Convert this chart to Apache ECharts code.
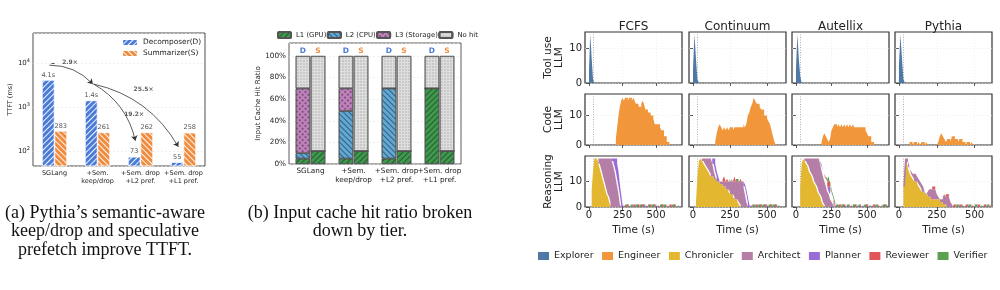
<!DOCTYPE html>
<html>
<head>
<meta charset="utf-8">
<title>Pythia evaluation figure</title>
<script src="https://cdn.jsdelivr.net/npm/echarts@6.0.0/dist/echarts.min.js"></script>
<style>
  html, body { margin: 0; padding: 0; background: #fff; }
  #chart { width: 1000px; height: 290px; }
</style>
</head>
<body>
<div id="chart"></div>
<script>
// ---------- (a) TTFT per stage ----------
const stageLabels = ['SGLang', '+Sem.\nkeep/drop', '+Sem. drop\n+L2 pref.', '+Sem. drop\n+L1 pref.']
const ttftDecomposer = [4100, 1400, 73, 55]
const ttftSummarizer = [283, 261, 262, 258]
const ttftTextD = ['4.1s', '1.4s', '73', '55']
const ttftTextS = ['283', '261', '262', '258']
// speedup arrows: [stage0, ttft0, stage1, ttft1]
const speedupArrows = [[-0.12, 8900, 0.89, 3300], [0.91, 3300, 1.88, 170], [0.91, 3300, 2.88, 123]]
const speedupText = ['2.9×', '19.2×', '25.5×']
const speedupTextAt = [[0.36, 10000], [1.85, 660], [2.07, 2500]]

// ---------- (b) input cache hit ratio (%) ----------
const tierNames = ['L1 (GPU)', 'L2 (CPU)', 'L3 (Storage)', 'No hit']
const decL1 = [5, 5, 5, 70]
const decL2 = [5, 44, 65, 0]
const decL3 = [60, 21, 0, 0]
const decMiss = [30, 30, 30, 30]
const sumL1 = [12, 12, 12, 12]
const sumL2 = [0, 0, 0, 0]
const sumL3 = [0, 0, 0, 0]
const sumMiss = [88, 88, 88, 88]

// ---------- (c) running requests over time ----------
const schedulers = ['FCFS', 'Continuum', 'Autellix', 'Pythia']
const rowNames = ['Tool use\nLLM', 'Code\nLLM', 'Reasoning\nLLM']
const agents = ['Explorer', 'Engineer', 'Chronicler', 'Architect', 'Planner', 'Reviewer', 'Verifier']
const timeTicks = [0, 250, 500]
const countTicks = [0, 10]
const timeRanges = [[-30, 694], [-27, 628], [-28, 655], [-26, 615]]
const rowMax = [14.7, 17.3, 20]
const launchTime = 30
const BIN = 10 // seconds per histogram bin

// Tool use LLM (Explorer), bins from t = 0
const toolFcfs = [4, 14, 7, 1]
const toolCont = [4, 14, 7, 1]
const toolAut = [4, 14, 7, 2]
const toolPythia = [5, 14, 7, 1]

// Code LLM (Engineer), first bin start and bins
const codeStart = [200, 150, 180, 70]
const codeFcfs = [2, 6, 10, 13, 15, 16, 15, 16, 16, 15, 16, 16, 15, 16, 15, 14, 14, 13, 13, 14, 15, 14, 12, 12, 11, 11, 10, 10, 9, 7, 7, 7, 7, 6, 5, 5, 3, 3, 1, 1]
const codeCont = [1, 4, 6, 7, 6, 5, 6, 5, 6, 5, 6, 6, 5, 6, 6, 6, 6, 6, 6, 7, 6, 7, 10, 11, 13, 14, 16, 15, 14, 14, 13, 12, 12, 10, 10, 9, 8, 7, 5, 3, 1]
const codeAut = [1, 3, 4, 3, 2, 1, 2, 5, 6, 7, 7, 6, 7, 6, 7, 6, 7, 6, 7, 6, 7, 6, 7, 6, 6, 6, 6, 6, 6, 6, 6, 5, 4, 3, 3, 1, 1]
const codePythia = [1, 1, 0, 1, 1, 0, 1, 0, 1, 1, 0, 1, 0, 0, 0, 0, 0, 0, 0, 1, 3, 4, 3, 2, 1, 2, 2, 1, 3, 3, 2, 2, 1, 2, 2, 1, 1, 0, 1, 1, 0, 1]

// Reasoning LLM, bins from t = 0 for the main agents
const fcfsChronicler = [0, 0, 7, 14, 19, 19, 19, 17, 15, 13, 11, 9, 7, 5, 4, 2, 0]
const fcfsArchitect = [0, 0, 0, 0, 0, 0, 0, 2, 4, 6, 8, 10, 12, 14, 15, 17, 19, 18, 16, 14, 11, 8, 5, 1]
const fcfsPlanner = [0, 0, 0, 0, 0, 0, 0, 0, 0, 0, 0, 0, 0, 0, 0, 0, 0, 1, 3, 5, 8, 9, 9, 8, 5, 1]
const contChronicler = [0, 0, 2, 12, 18, 19, 18, 17, 16, 15, 14, 13, 12, 12, 11, 11, 10, 10, 9, 9, 8, 8, 7, 7, 6, 5, 5, 4, 3, 3, 2, 1, 0]
const contArchitect = [0, 0, 0, 0, 0, 0, 1, 2, 3, 4, 5, 6, 7, 5, 3, 1, 0, 0, 1, 1, 2, 2, 3, 3, 4, 5, 5, 6, 7, 7, 8, 9, 10, 10, 8, 5, 2]
const contPlanner = [0, 0, 0, 0, 0, 0, 0, 0, 0, 0, 0, 0, 0, 2, 5, 5, 4, 2, 0, 0, 0, 0, 0, 0, 0, 0, 0, 0, 0, 0, 0, 0, 0, 0, 2, 4, 5, 4, 1]
const autChronicler = [0, 0, 0, 8, 17, 19, 18, 17, 16, 14, 13, 12, 10, 9, 8, 6, 5, 4, 2, 1, 0]
const autArchitect = [0, 0, 0, 0, 0, 0, 1, 2, 3, 5, 6, 7, 9, 10, 11, 13, 14, 13, 12, 11, 10, 8, 6, 5, 3, 2, 1]
const autPlanner = [0, 0, 0, 0, 0, 0, 0, 0, 0, 0, 0, 0, 0, 0, 0, 0, 0, 1, 2, 2, 2, 2, 2, 3, 2, 1, 1]
const pythiaChronicler = [0, 0, 0, 8, 17, 18, 15, 13, 12, 11, 10, 10, 9, 8, 7, 6, 6, 5, 5, 4, 4, 3, 3, 3, 3, 3, 3, 2, 2, 1, 1, 0]
const pythiaArchitect = [0, 0, 0, 1, 2, 1, 1, 2, 2, 2, 3, 3, 3, 3, 3, 3, 2, 1, 0, 2, 3, 4, 4, 4, 4, 2, 1, 1, 1, 3, 4, 4, 4, 4, 2, 1]

// Reasoning LLM, single requests: start time (s) of each bin that holds one more
const fcfsExplorerAt = [320, 370, 410, 490, 550, 610]
const fcfsPlannerAt = [290, 340, 400, 460, 500, 590, 640]
const fcfsReviewerAt = [260, 280, 300, 330, 360, 390, 420, 450, 480, 510, 540, 570, 600, 630, 650]
const fcfsVerifierAt = [270, 310, 350, 380, 440, 470, 530, 560, 620, 660]
const contExplorerAt = [430, 490, 530]
const contPlannerAt = [410, 460, 500, 560]
const contReviewerAt = [200, 210, 210, 230, 260, 280, 280, 300, 320, 390, 420, 450, 480, 520, 550]
const contVerifierAt = [240, 290, 400, 440, 470, 510, 540, 570]
const autExplorerAt = [340, 420, 500, 570, 630]
const autPlannerAt = [310, 350, 390, 430, 470, 510, 550, 600]
const autReviewerAt = [200, 210, 220, 220, 230, 230, 240, 240, 250, 250, 260, 270, 300, 330, 370, 410, 450, 490, 540, 580, 620]
const autVerifierAt = [210, 220, 230, 230, 240, 240, 250, 260, 270, 280, 290, 320, 360, 400, 440, 480, 520, 560, 610, 640]
const pythiaExplorerAt = [390, 450, 510, 570]
const pythiaPlannerAt = [60, 70, 80, 90, 370, 410, 470, 530, 590]
const pythiaReviewerAt = [220, 230, 310, 320, 360, 400, 440, 480, 520, 560, 600]
const pythiaVerifierAt = [380, 420, 460, 500, 540, 580]

const FONT = 'DejaVu Sans'
const INK = '#222'
const agentColor = {
  Explorer: '#4e79a7', Engineer: '#f2963c', Chronicler: '#e3b830', Architect: '#b47ea7',
  Planner: '#9a6cd6', Reviewer: '#e15759', Verifier: '#5aa150'
}

function hatch(color, rotation, gap) {
  return { symbol: 'rect', symbolSize: 1, color: color, dashArrayX: [1, 0], dashArrayY: [1, gap || 3], rotation: rotation }
}

// histogram bins -> step points, stored as [count, time] so that the count is the stacked dimension.
// Empty bins away from a run become gaps, so a layer leaves no sliver where it is zero.
function stepData(start, vals, gaps) {
  const pts = vals.map((v, i) => {
    const keep = !gaps || v > 0 || (i > 0 && vals[i - 1] > 0)
    return [keep ? v : null, start + i * BIN]
  })
  const last = vals[vals.length - 1]
  pts.push([!gaps || last > 0 ? 0 : null, start + vals.length * BIN])
  return pts
}

function binned(dense, at, n) {
  const out = []
  for (let i = 0; i < n; i++) out.push(dense && i < dense.length ? dense[i] : 0)
  ;(at || []).forEach(t => { out[Math.round(t / BIN)] += 1 })
  return out
}

const chart = echarts.init(document.getElementById('chart'))

const grids = [], xAxes = [], yAxes = [], series = [], titles = []
const axisTickStyle = { length: 3, lineStyle: { color: INK, width: 0.8 } }

// ----- (a) -----
grids.push({ left: 33, top: 33, width: 172, height: 133, show: true, borderColor: INK, borderWidth: 0.8, outerBoundsMode: 'none' })
xAxes.push({
  type: 'category', gridIndex: 0, data: stageLabels,
  axisLine: { show: false }, axisTick: Object.assign({ alignWithLabel: true }, axisTickStyle),
  axisLabel: { interval: 0, fontSize: 6.5, lineHeight: 8, color: INK, margin: 3 }
})
xAxes.push({ type: 'value', gridIndex: 0, min: -0.5, max: 3.5, show: false })
yAxes.push({
  type: 'log', gridIndex: 0, logBase: 10, min: 45, max: 48000,
  name: 'TTFT (ms)', nameLocation: 'middle', nameGap: 18, nameTextStyle: { fontSize: 6.5, color: INK },
  axisLine: { show: false }, axisTick: axisTickStyle,
  axisLabel: {
    showMinLabel: false, showMaxLabel: false, fontSize: 7, color: INK, margin: 3,
    formatter: v => '10{s|' + Math.round(Math.log10(v)) + '}',
    rich: { s: { fontSize: 5, verticalAlign: 'top', padding: [0, 0, 5, 0], color: INK } }
  },
  splitLine: { lineStyle: { color: '#e4e4e4', type: [2, 2], width: 0.6 } }
})
series.push({
  type: 'bar', name: 'Decomposer(D)', xAxisIndex: 0, yAxisIndex: 0, data: ttftDecomposer,
  barWidth: 12.5, barGap: '0%',
  itemStyle: { color: '#4a7bd6', borderColor: '#fff', borderWidth: 0.5, decal: hatch('rgba(255,255,255,0.9)', -Math.PI / 4) },
  label: { show: true, position: 'top', distance: 1.5, fontSize: 6.5, color: '#555', formatter: p => ttftTextD[p.dataIndex] }
})
series.push({
  type: 'bar', name: 'Summarizer(S)', xAxisIndex: 0, yAxisIndex: 0, data: ttftSummarizer,
  barWidth: 12.5, barGap: '0%',
  itemStyle: { color: '#ef8c3f', borderColor: '#fff', borderWidth: 0.5, decal: hatch('rgba(255,255,255,0.9)', Math.PI / 4) },
  label: { show: true, position: 'top', distance: 1.5, fontSize: 6.5, color: '#555', formatter: p => ttftTextS[p.dataIndex] }
})
series.push({
  type: 'lines', coordinateSystem: 'cartesian2d', xAxisIndex: 1, yAxisIndex: 0, silent: true, z: 5,
  symbol: ['none', 'arrow'], symbolSize: 5,
  lineStyle: { color: '#333', width: 0.8, curveness: 0.22, opacity: 1 },
  data: speedupArrows.map(a => ({ coords: [[a[0], a[1]], [a[2], a[3]]] }))
})
series.push({
  type: 'scatter', xAxisIndex: 1, yAxisIndex: 0, symbolSize: 0, silent: true, z: 6,
  data: speedupText.map((t, i) => ({ name: t, value: speedupTextAt[i] })),
  label: { show: true, position: 'inside', formatter: '{b}', fontSize: 6, fontWeight: 'bold', color: '#333' }
})

// ----- (b) -----
grids.push({ left: 289, top: 43, width: 172, height: 121, show: true, borderColor: '#333', borderWidth: 0.8, outerBoundsMode: 'none' })
xAxes.push({
  type: 'category', gridIndex: 1, data: stageLabels,
  axisLine: { show: false }, axisTick: Object.assign({ alignWithLabel: true }, axisTickStyle),
  axisLabel: { interval: 0, fontSize: 7.3, lineHeight: 8.5, color: INK, margin: 3 }
})
yAxes.push({
  type: 'value', gridIndex: 1, min: 0, max: 112, interval: 20,
  name: 'Input Cache Hit Ratio', nameLocation: 'middle', nameGap: 27, nameTextStyle: { fontSize: 7, color: INK },
  axisLine: { show: false }, axisTick: axisTickStyle,
  axisLabel: { showMaxLabel: false, formatter: '{value}%', fontSize: 7.3, color: INK, margin: 3 },
  splitLine: { lineStyle: { color: '#e4e4e4', type: [2, 2], width: 0.6 } }
})
const tierStyle = [
  { color: '#3b9a4b', decal: hatch('rgba(40,40,40,0.6)', -Math.PI / 4) },
  { color: '#5ea9d8', decal: hatch('rgba(40,40,40,0.6)', Math.PI / 4) },
  { color: '#c27fbf', decal: { symbol: 'rect', symbolSize: 1, color: 'rgba(60,60,60,0.55)', dashArrayX: [1.5, 1.5], dashArrayY: [1.5, 1.5], rotation: Math.PI / 4 } },
  { color: '#dedede', decal: { symbol: 'rect', symbolSize: 0.5, color: '#8a8a8a', dashArrayX: [2, 1], dashArrayY: [2, 1], rotation: 0 } }
]
const decTiers = [decL1, decL2, decL3, decMiss]
const sumTiers = [sumL1, sumL2, sumL3, sumMiss]
;[['D', decTiers, '#4a7bd6'], ['S', sumTiers, '#ef8c3f']].forEach(([tag, tiers, tagColor]) => {
  tiers.forEach((vals, k) => {
    series.push({
      type: 'bar', name: tierNames[k], xAxisIndex: 2, yAxisIndex: 1, stack: tag, data: vals,
      barWidth: 14.5, barGap: '4%',
      itemStyle: Object.assign({ borderColor: '#555', borderWidth: 0.7 }, tierStyle[k]),
      label: k === 3
        ? { show: true, position: 'top', distance: 0.5, formatter: tag, color: tagColor, fontWeight: 'bold', fontSize: 7.5 }
        : { show: false }
    })
  })
})

// ----- (c) -----
const colLeft = [585, 689, 792, 895]
const rowTop = [32, 94, 156]
const toolData = [toolFcfs, toolCont, toolAut, toolPythia]
const codeData = [codeFcfs, codeCont, codeAut, codePythia]
const reasoning = [
  { dense: { Chronicler: fcfsChronicler, Architect: fcfsArchitect, Planner: fcfsPlanner },
    at: { Explorer: fcfsExplorerAt, Planner: fcfsPlannerAt, Reviewer: fcfsReviewerAt, Verifier: fcfsVerifierAt } },
  { dense: { Chronicler: contChronicler, Architect: contArchitect, Planner: contPlanner },
    at: { Explorer: contExplorerAt, Planner: contPlannerAt, Reviewer: contReviewerAt, Verifier: contVerifierAt } },
  { dense: { Chronicler: autChronicler, Architect: autArchitect, Planner: autPlanner },
    at: { Explorer: autExplorerAt, Planner: autPlannerAt, Reviewer: autReviewerAt, Verifier: autVerifierAt } },
  { dense: { Chronicler: pythiaChronicler, Architect: pythiaArchitect },
    at: { Explorer: pythiaExplorerAt, Planner: pythiaPlannerAt, Reviewer: pythiaReviewerAt, Verifier: pythiaVerifierAt } }
]
const reasoningOrder = ['Explorer', 'Chronicler', 'Architect', 'Planner', 'Reviewer', 'Verifier']

function areaSeries(name, xi, yi, data, stack) {
  return {
    type: 'line', name: name, xAxisIndex: xi, yAxisIndex: yi, data: data, step: 'end', stack: stack,
    dimensions: ['count', 'time'], encode: { x: 'time', y: 'count' },
    symbol: 'none', color: agentColor[name], silent: true, connectNulls: false,
    itemStyle: { color: agentColor[name] },
    lineStyle: { width: 0, color: agentColor[name] },
    areaStyle: { color: agentColor[name], opacity: 1 }
  }
}

for (let r = 0; r < 3; r++) {
  for (let c = 0; c < 4; c++) {
    const gi = grids.length
    const xi = xAxes.length
    const yi = yAxes.length
    grids.push({ left: colLeft[c], top: rowTop[r], width: 97, height: 51, show: true, borderColor: '#333', borderWidth: 1.2, outerBoundsMode: 'none' })
    xAxes.push({
      type: 'value', gridIndex: gi, min: timeRanges[c][0], max: timeRanges[c][1],
      axisLine: { show: false },
      axisTick: { customValues: timeTicks, length: 3, lineStyle: { color: '#333', width: 0.8 } },
      axisLabel: { show: r === 2, customValues: timeTicks, fontSize: 10, color: INK, margin: 3 },
      splitLine: { show: false },
      name: r === 2 ? 'Time (s)' : '', nameLocation: 'middle', nameGap: 18,
      nameTextStyle: { fontSize: 10.5, color: INK }
    })
    yAxes.push({
      type: 'value', gridIndex: gi, min: 0, max: rowMax[r], interval: 10,
      axisLine: { show: false },
      axisTick: { customValues: countTicks, length: 3, lineStyle: { color: '#333', width: 0.8 } },
      axisLabel: { show: c === 0, customValues: countTicks, fontSize: 10, color: INK, margin: 3 },
      splitLine: { show: true, lineStyle: { color: '#e4e4e4', type: [1, 2], width: 0.6 } },
      name: c === 0 ? rowNames[r] : '', nameLocation: 'middle', nameRotate: 90, nameGap: 20,
      nameTextStyle: { fontSize: 10.5, lineHeight: 11, color: INK }
    })
    // grid lines along time and the dotted launch marker, drawn under the areas
    series.push({
      type: 'line', name: '', xAxisIndex: xi, yAxisIndex: yi, data: [], silent: true,
      markLine: {
        silent: true, symbol: 'none', z: 1, animation: false, label: { show: false },
        data: timeTicks.map(t => ({ xAxis: t, lineStyle: { color: '#e4e4e4', type: [1, 2], width: 0.6 } }))
          .concat([{ xAxis: launchTime, lineStyle: { color: '#999', type: [1, 1.5], width: 0.8 } }])
      }
    })
    if (r === 0) {
      series.push(areaSeries('Explorer', xi, yi, stepData(0, toolData[c], false), null))
    } else if (r === 1) {
      series.push(areaSeries('Engineer', xi, yi, stepData(codeStart[c], codeData[c], false), null))
    } else {
      const spec = reasoning[c]
      const n = 70
      reasoningOrder.forEach(name => {
        const vals = binned(spec.dense[name], spec.at[name], n)
        series.push(areaSeries(name, xi, yi, stepData(0, vals, true), 'reason' + c))
      })
    }
  }
}

schedulers.forEach((s, c) => {
  titles.push({
    text: s, left: colLeft[c] + 48.5, top: 20.5, textAlign: 'center', padding: 0,
    textStyle: { fontSize: 12, fontWeight: 'normal', color: INK, fontFamily: FONT }
  })
})
titles.push({
  text: '(a) Pythia\u2019s semantic-aware\nkeep/drop and speculative\nprefetch improve TTFT.',
  left: 105, top: 204, textAlign: 'center', padding: 0,
  textStyle: { fontFamily: 'Liberation Serif', fontSize: 18, lineHeight: 18.5, fontWeight: 'normal', color: '#111' }
})
titles.push({
  text: '(b) Input cache hit ratio broken\ndown by tier.',
  left: 360, top: 204, textAlign: 'center', padding: 0,
  textStyle: { fontFamily: 'Liberation Serif', fontSize: 18, lineHeight: 18.5, fontWeight: 'normal', color: '#111' }
})

chart.setOption({
  animation: false,
  backgroundColor: '#fff',
  textStyle: { fontFamily: FONT },
  title: titles,
  legend: [
    {
      data: ['Decomposer(D)', 'Summarizer(S)'], left: 121, top: 38, orient: 'vertical', padding: 0,
      itemWidth: 16, itemHeight: 7, itemGap: 2, selectedMode: false,
      textStyle: { fontSize: 7.4, color: INK, fontFamily: FONT }
    },
    {
      data: tierNames, left: 277, top: 31, padding: 0, itemWidth: 13, itemHeight: 6, itemGap: 0.5, selectedMode: false,
      textStyle: { fontSize: 6.9, color: INK, fontFamily: FONT }
    },
    {
      data: agents, left: 538, top: 251, width: 462, padding: 0, icon: 'rect', itemWidth: 11, itemHeight: 8, itemGap: 8.5, selectedMode: false,
      textStyle: { fontSize: 9.5, color: INK, fontFamily: FONT }
    }
  ],
  grid: grids,
  xAxis: xAxes,
  yAxis: yAxes,
  series: series
})
</script>
</body>
</html>
